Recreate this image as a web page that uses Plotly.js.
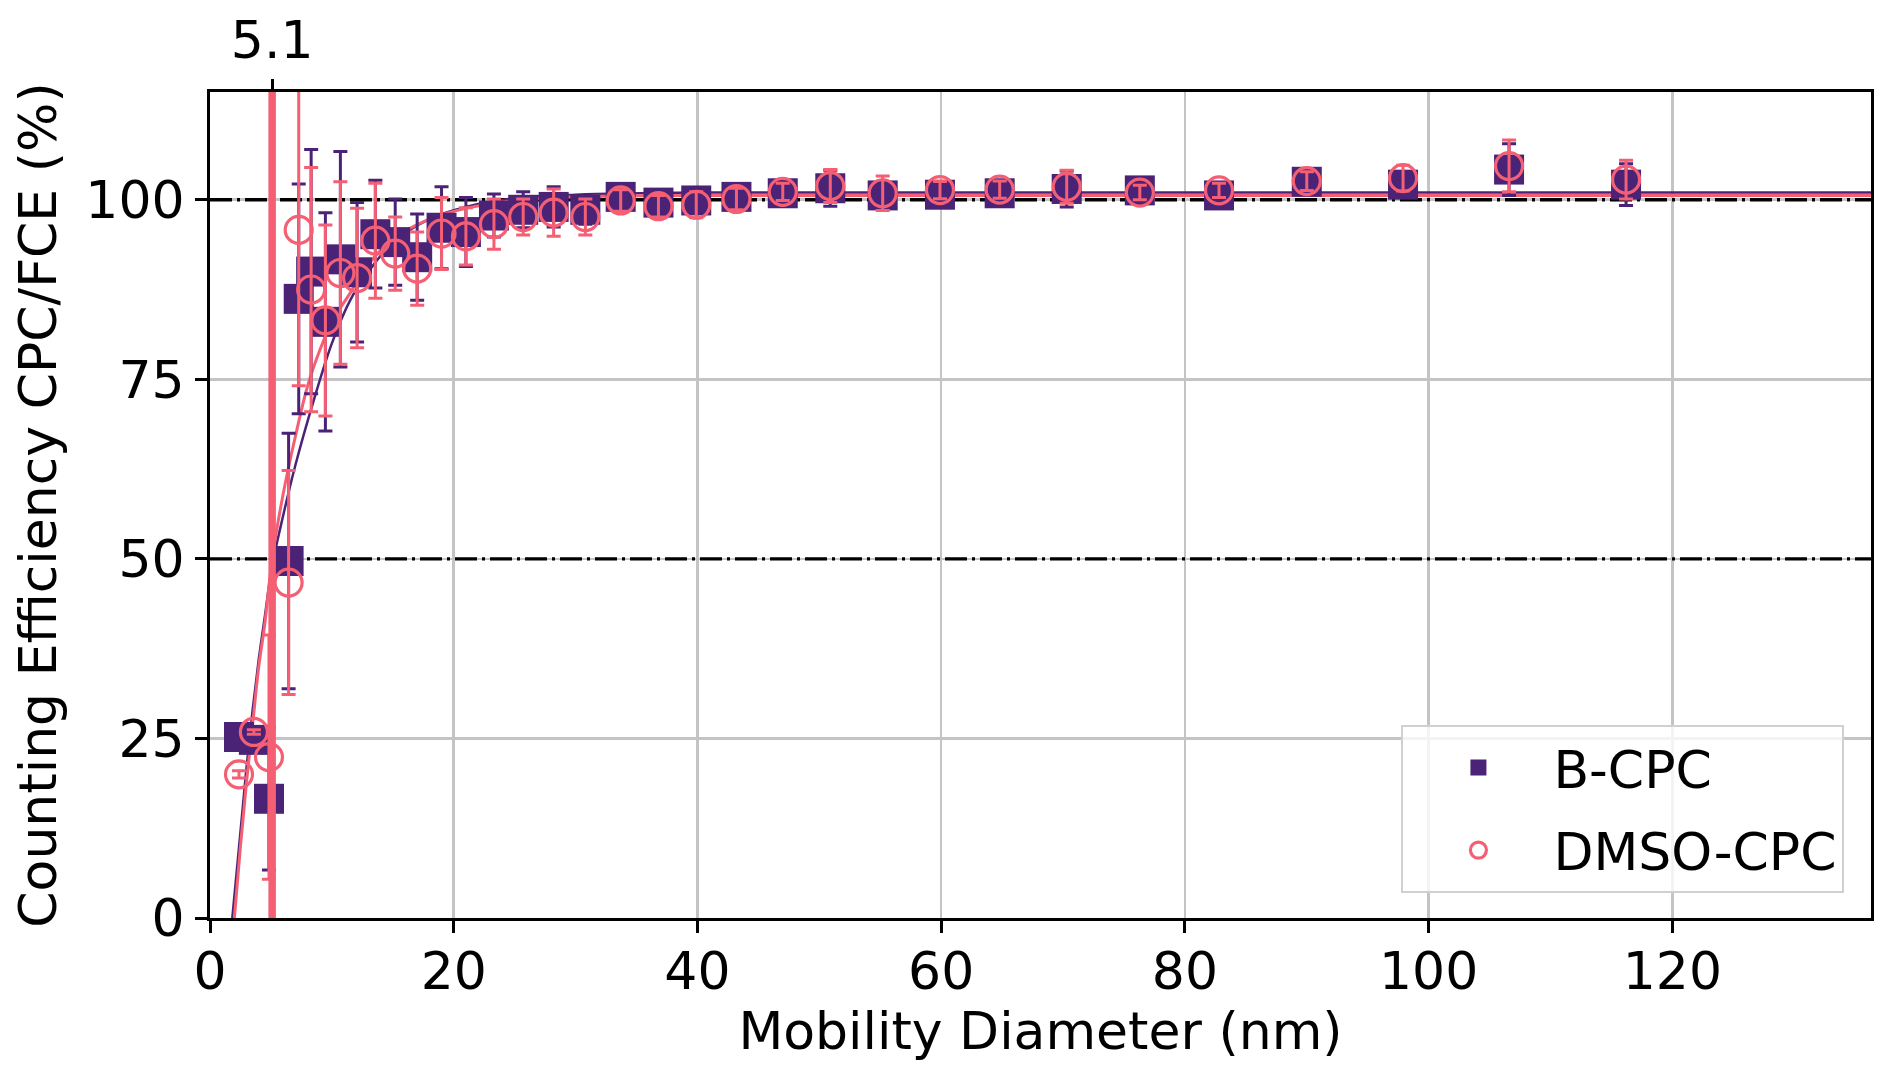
<!DOCTYPE html>
<html>
<head>
<meta charset="utf-8">
<script src="https://cdn.plot.ly/plotly-3.0.1.min.js"></script>
<style>
  html, body { margin: 0; padding: 0; background: #fff; }
  #chart { width: 1892px; height: 1079px; }
</style>
</head>
<body>
<div id="chart"></div>
<script>
// Mobility diameter bins (nm), shared by both instruments
var diam = [2.38, 3.6, 4.84, 6.45, 7.28, 8.3, 9.47, 10.7, 12.07, 13.57, 15.2, 17.0, 19.0, 21.0,
  23.3, 25.7, 28.2, 30.8, 33.7, 36.8, 39.9, 43.2, 47.0, 50.9, 55.2, 59.9, 64.8, 70.3,
  76.3, 82.8, 90.0, 97.9, 106.6, 116.2];

// B-CPC counting efficiency (%) and error
var bcpc = [25.2, 24.8, 16.6, 49.7, 86.2, 90.0, 83.0, 91.7, 89.9, 95.2, 94.1, 92.0, 96.1, 95.5,
  97.8, 98.6, 99.0, 98.6, 100.4, 99.6, 99.9, 100.4, 100.9, 101.6, 100.6, 100.7, 100.9, 101.5,
  101.3, 100.6, 102.5, 102.1, 104.2, 102.1];
var bcpcErr = [0.3, 0.3, 9.9, 17.8, 16.0, 17.0, 15.2, 15.0, 9.7, 7.5, 6.0, 6.0, 5.7, 4.8,
  3.0, 2.5, 2.8, 2.0, 1.5, 1.2, 1.5, 1.3, 1.2, 2.5, 1.5, 1.2, 1.2, 2.5,
  1.0, 1.2, 1.2, 1.5, 3.6, 2.9];

// DMSO-CPC counting efficiency (%) and error
var dmso = [20.0, 25.9, 22.4, 46.7, 95.8, 87.5, 83.2, 89.8, 89.1, 94.3, 92.5, 90.4, 95.3, 94.9,
  96.6, 97.6, 98.2, 97.6, 99.9, 99.1, 99.3, 100.1, 101.1, 101.9, 100.9, 101.35, 101.4, 101.8,
  101.0, 101.3, 102.6, 103.0, 104.7, 102.8];
var dmsoErr = [0.5, 0.3, 17.0, 15.6, 21.7, 17.0, 13.3, 12.7, 9.7, 8.0, 5.1, 5.1, 5.0, 4.0,
  3.5, 2.5, 3.3, 2.5, 1.5, 1.5, 1.8, 1.5, 1.2, 2.3, 2.4, 1.2, 1.2, 2.3,
  1.0, 1.0, 1.3, 1.8, 3.6, 2.7];

// fitted curves
var bcpcFitX = [1.83, 2.5, 3.0, 3.5, 4.0, 4.5, 5.1, 6.0, 7.0, 8.5, 10.0, 11.5, 13.0, 15.0, 18.0, 21.0, 25.0, 30.0, 40.0, 60.0, 136.3];
var bcpcFitY = [0, 12, 21, 29, 36, 42, 49, 56, 63, 72, 80, 86, 90, 94, 97.3, 99, 100.2, 100.7, 101, 101, 101];
var dmsoFitX = [2.0, 2.5, 3.0, 3.5, 4.0, 4.5, 5.1, 6.0, 7.0, 8.0, 9.0, 10.0, 11.5, 13.0, 15.0, 18.0, 21.0, 25.0, 30.0, 40.0, 60.0, 136.3];
var dmsoFitY = [0, 10, 19, 27, 35, 41, 50, 59, 67, 74, 79, 83, 87, 91, 94.5, 97.3, 98.8, 99.9, 100.4, 100.6, 100.6, 100.6];

// cut-off diameter (d50) and reference levels
var d50 = 5.1;
var refLevels = [100, 50];

var xRange = [0, 136.3];
var yRange = [0, 115];
var xTicks = [0, 20, 40, 60, 80, 100, 120];
var yTicks = [0, 25, 50, 75, 100];

var purple = "#4a2377";
var pink = "#f55f74";
var font = "DejaVu Sans";
var fs = 52;

var traces = [];

// dash-dot reference levels
refLevels.forEach(function (v) {
  traces.push({
    x: xRange, y: [v, v], type: "scatter", mode: "lines",
    line: { color: "black", width: 3.3, dash: "22px,5px,3px,5px" },
    showlegend: false, hoverinfo: "skip"
  });
});

traces.push(
  {
    x: bcpcFitX, y: bcpcFitY, type: "scatter", mode: "lines",
    line: { color: purple, width: 2.5, shape: "spline" },
    showlegend: false, hoverinfo: "skip"
  },
  {
    x: dmsoFitX, y: dmsoFitY, type: "scatter", mode: "lines",
    line: { color: pink, width: 3, shape: "spline" },
    showlegend: false, hoverinfo: "skip"
  },
  {
    x: diam, y: bcpc, name: "B-CPC", legendgroup: "a", type: "scatter", mode: "markers",
    marker: { symbol: "square", size: 30, color: purple, line: { width: 0 } },
    error_y: { type: "data", array: bcpcErr, visible: true, color: purple, thickness: 3, width: 7 }
  },
  {
    x: diam, y: dmso, name: "DMSO-CPC", legendgroup: "b", type: "scatter", mode: "markers",
    marker: { symbol: "circle-open", size: 27, color: pink, line: { width: 3.2, color: pink } },
    error_y: { type: "data", array: dmsoErr, visible: true, color: pink, thickness: 3, width: 7 }
  },
  // d50 marker line, on the top axis so it sits above the data
  {
    x: [d50, d50], y: yRange, xaxis: "x2", yaxis: "y", type: "scatter", mode: "lines",
    line: { color: pink, width: 7.5 }, showlegend: false, hoverinfo: "skip"
  }
);

var axisCommon = {
  showline: true, linecolor: "black", linewidth: 3, mirror: true,
  ticks: "outside", ticklen: 12, tickwidth: 3, tickcolor: "black",
  showgrid: true, gridcolor: "#c4c4c4", gridwidth: 2.5, zeroline: false,
  tickfont: { family: font, size: fs, color: "black" }
};

var layout = {
  width: 1892, height: 1079,
  margin: { l: 210, r: 21, t: 92, b: 161 },
  paper_bgcolor: "white", plot_bgcolor: "white",
  font: { family: font, size: fs, color: "black" },
  xaxis: Object.assign({}, axisCommon, {
    range: xRange, tickvals: xTicks, ticklabelstandoff: -6,
    title: { text: "Mobility Diameter (nm)", font: { family: font, size: fs }, standoff: 10 }
  }),
  yaxis: Object.assign({}, axisCommon, {
    range: yRange, tickvals: yTicks,
    title: { text: "Counting Efficiency CPC/FCE (%)", font: { family: font, size: fs }, standoff: 13 }
  }),
  xaxis2: {
    overlaying: "x", side: "top", range: xRange, anchor: "y",
    tickvals: [d50], ticktext: [String(d50)],
    ticks: "outside", ticklen: 12, tickwidth: 3, tickcolor: "black",
    showline: false, showgrid: false, zeroline: false,
    tickfont: { family: font, size: fs, color: "black" }
  },
  showlegend: true,
  legend: {
    x: 0.984, y: 0.03, xanchor: "right", yanchor: "bottom",
    bgcolor: "rgba(255,255,255,0.8)", bordercolor: "#d0d0d0", borderwidth: 2,
    font: { family: font, size: fs, color: "black" },
    traceorder: "grouped", tracegroupgap: 12,
    itemwidth: 140
  }
};

Plotly.newPlot("chart", traces, layout, { staticPlot: true });
</script>
</body>
</html>
